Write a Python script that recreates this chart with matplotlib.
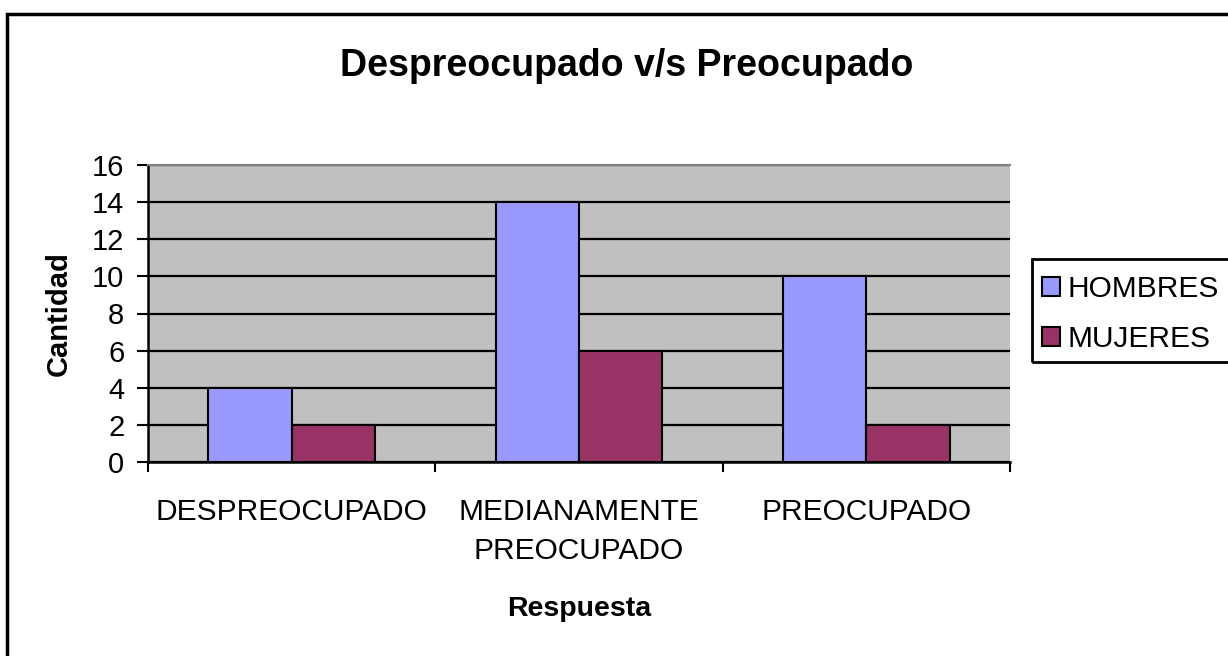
import matplotlib
matplotlib.use("Agg")
import matplotlib.pyplot as plt
import matplotlib.patches as mpatches
import numpy as np

categories = ["DESPREOCUPADO", "MEDIANAMENTE\nPREOCUPADO", "PREOCUPADO"]
hombres = [4, 14, 10]
mujeres = [2, 6, 2]
series_names = ["HOMBRES", "MUJERES"]
y_ticks = [0, 2, 4, 6, 8, 10, 12, 14, 16]

plt.rcParams['font.family'] = ['Liberation Sans', 'DejaVu Sans']

W, H = 1228, 656
fig = plt.figure(figsize=(W / 100, H / 100), dpi=100)
fig.patch.set_facecolor("white")

left, right, top, bottom = 148, 1010, 165, 462
ax = fig.add_axes([left / W, 1 - bottom / H, (right - left) / W, (bottom - top) / H])
ax.set_facecolor("#C0C0C0")

x = np.arange(len(categories))
bw = 0.29
ax.bar(x - bw / 2, hombres, bw, color="#9999FF", edgecolor="black", linewidth=1.5,
       label=series_names[0], zorder=3)
ax.bar(x + bw / 2, mujeres, bw, color="#993366", edgecolor="black", linewidth=1.5,
       label=series_names[1], zorder=3)

ax.set_xlim(-0.5, len(categories) - 0.5)
ax.set_ylim(0, 16)
ax.set_yticks(y_ticks)
ax.yaxis.grid(True, color="black", linewidth=1.6, zorder=1)
ax.set_axisbelow(True)

# x: ticks at category boundaries, labels centered
ax.set_xticks(np.arange(-0.5, len(categories), 1.0))
ax.set_xticklabels([])
ax.set_xticks(x, minor=True)
ax.set_xticklabels(categories, minor=True, fontsize=21.5, linespacing=1.5)
ax.tick_params(axis="x", which="minor", length=0, pad=26)
ax.tick_params(axis="x", which="major", length=7, width=1.5, direction="out")
ax.tick_params(axis="y", length=8, width=1.5, direction="out", labelsize=21, pad=9)

for s in ["left", "bottom"]:
    ax.spines[s].set_color("black")
    ax.spines[s].set_linewidth(1.8)
for s in ["top", "right"]:
    ax.spines[s].set_color("#808080")
    ax.spines[s].set_linewidth(1.5)
ax.spines["right"].set_visible(False)

ax.set_ylabel("Cantidad", fontsize=21, fontweight="bold", labelpad=14)
ax.set_xlabel("Respuesta", fontsize=20.5, fontweight="bold", labelpad=22)

fig.suptitle("Despreocupado v/s Preocupado", fontsize=27, fontweight="bold",
             x=627 / W, y=1 - 48 / H, va="top")

leg = fig.legend(loc="upper left", bbox_to_anchor=(1032 / W, 1 - 265 / H),
                 fontsize=21.5, frameon=False,
                 handlelength=0.6, handleheight=0.6, handletextpad=0.25,
                 borderpad=0.35, labelspacing=0.72, borderaxespad=0)

legend_box = mpatches.Rectangle((1032 / W, 1 - 362 / H), 0.2, (362 - 259) / H,
                                transform=fig.transFigure, fill=False,
                                edgecolor="black", linewidth=2, clip_on=False)
fig.patches.append(legend_box)

border = mpatches.Rectangle((7 / W, -0.05), 1.1, 1 - 14 / H + 0.05,
                            transform=fig.transFigure, fill=False,
                            edgecolor="black", linewidth=2.5, clip_on=False)
fig.patches.append(border)

fig.savefig("out.png", dpi=100)
